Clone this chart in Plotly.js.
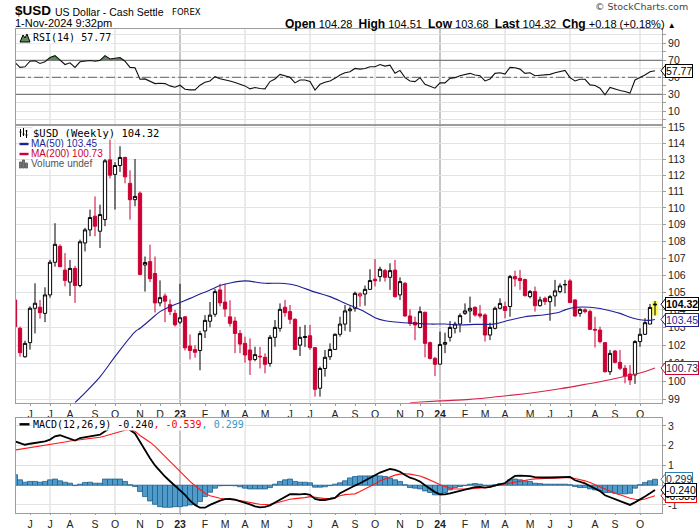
<!DOCTYPE html>
<html><head><meta charset="utf-8">
<script src="https://cdn.plot.ly/plotly-3.0.1.min.js"></script>
<style>html,body{margin:0;padding:0;background:#fff}</style>
</head><body><div id="chart" style="width:700px;height:530px"></div>
<script>
// ---------------- DATA ----------------
const firstWeek = '2022-05-16';   // Monday of first (partly visible) weekly bar
const opens = [104.57,102.95,101.35,102.14,104.09,104.15,103.80,104.86,106.76,107.70,
106.30,105.60,106.40,105.40,107.90,108.68,109.50,108.60,109.30,112.95,
112.05,112.60,113.10,111.50,110.50,110.90,106.60,106.80,106.10,104.40,
104.80,104.30,103.80,103.30,103.60,101.95,101.75,101.70,102.80,103.35,
103.75,105.15,104.45,103.60,103.36,102.66,102.10,101.73,101.20,101.38,
101.32,100.98,102.44,102.95,104.15,103.90,103.46,102.00,102.48,102.53,
101.86,99.61,100.70,101.35,101.76,102.61,103.19,103.95,104.09,104.80,
104.91,105.18,105.77,105.92,106.27,105.88,106.30,104.86,105.53,103.65,
103.29,103.00,103.86,102.14,101.26,100.94,102.05,102.44,102.95,103.19,
103.80,103.94,104.15,103.77,103.71,102.57,102.95,104.09,104.19,104.19,
105.92,105.82,105.75,104.76,105.05,104.24,104.66,104.47,104.80,105.05,
105.44,105.67,104.57,103.80,104.00,103.90,102.89,102.85,102.14,100.52,
101.67,101.04,100.71,100.39,100.34,102.20,102.61,103.19,104.28];
const highs = [104.85,103.05,102.25,104.20,105.53,104.57,105.30,106.90,109.08,107.82,
107.30,106.90,106.55,108.10,108.80,109.90,110.70,110.20,113.00,114.31,
112.80,113.80,113.15,112.30,113.00,111.00,107.10,107.80,107.10,105.70,
104.95,104.60,104.00,105.50,103.65,102.60,102.00,102.80,103.70,104.45,
105.20,105.50,105.50,104.55,103.60,102.85,102.48,102.38,101.91,101.90,
101.54,102.57,103.42,104.37,104.57,104.28,103.52,103.04,103.14,103.14,
101.90,100.80,101.73,102.10,102.66,103.61,104.28,104.20,105.05,105.01,
105.40,106.35,106.95,106.50,106.37,106.70,106.90,105.88,105.60,104.03,
103.61,104.19,103.90,102.20,101.35,102.76,102.70,103.36,103.32,103.80,
104.37,104.76,104.19,104.28,103.80,103.27,104.19,104.66,104.47,106.02,
106.27,106.31,105.80,105.14,105.34,104.76,104.76,104.86,105.73,105.53,
105.73,105.77,104.60,104.09,104.09,104.00,103.61,103.04,102.16,101.73,
101.73,101.73,100.89,100.89,102.28,102.95,103.52,104.34,104.51];
const lows = [102.90,101.35,101.30,101.75,102.66,103.50,103.30,104.70,106.50,106.50,
105.35,104.80,104.40,105.30,107.40,108.30,108.30,107.60,108.90,111.80,
109.90,112.20,111.50,109.30,110.10,106.00,105.05,105.60,103.85,104.20,
103.30,103.70,103.05,103.20,101.70,101.20,101.30,100.60,102.40,103.00,
103.60,104.20,103.60,103.05,101.55,101.55,101.02,100.34,101.10,100.70,
100.43,100.80,101.91,102.76,103.61,103.19,101.73,101.39,101.90,101.73,
99.15,99.15,100.25,101.17,101.73,102.48,102.81,102.75,103.90,104.19,
104.24,105.15,105.35,105.63,105.63,105.15,104.70,104.57,103.61,103.08,
102.28,102.95,101.32,101.20,100.28,100.93,101.55,102.20,102.66,102.72,
103.71,103.27,103.61,103.52,102.20,102.28,102.89,104.03,103.52,103.61,
105.34,105.15,104.76,104.66,103.90,104.19,104.28,103.38,104.19,104.95,
104.95,104.42,103.61,103.61,103.80,102.85,101.87,102.10,100.47,100.34,
100.98,100.61,99.88,99.79,99.85,101.91,102.57,103.19,103.68];
const closes = [103.04,101.58,102.10,104.09,104.38,103.84,104.86,106.76,107.82,106.50,
105.70,106.40,105.40,107.97,108.68,109.42,108.90,109.60,112.89,112.00,
112.60,113.10,111.90,110.50,110.70,106.05,106.75,105.80,104.40,104.70,
104.50,103.90,103.15,103.55,101.85,101.70,101.60,102.65,103.40,103.70,
105.05,104.40,104.05,103.23,102.66,102.06,101.45,101.17,101.47,101.35,
100.93,102.44,103.00,104.03,103.84,103.46,101.76,102.44,102.44,101.86,
99.55,100.70,101.32,101.76,102.61,103.19,103.94,104.05,104.95,104.92,
105.18,105.69,105.68,106.35,105.88,106.27,104.76,105.63,103.65,103.23,
103.14,103.90,102.10,101.26,100.93,102.04,102.15,103.00,103.19,103.67,
103.94,104.09,103.71,103.65,102.57,103.00,104.09,104.37,103.96,105.92,
105.79,105.69,104.82,105.05,104.24,104.57,104.47,104.76,105.09,105.38,
105.46,104.42,103.65,104.03,103.90,102.89,102.85,102.20,100.52,101.54,
101.04,100.71,100.28,100.06,102.20,102.61,103.27,104.14,104.32];

// moving averages (week index -> value)
const ma50Week = [12,17,20,24,25,27,29,31,33,35,37,39,41,43,46,50,53,56,60,63,66,70,72,74,76,80,83,86,89,92,96,99,102,106,109,110,112,115,117,119,121,123,125,127,128];
const ma50 = [98.82,100.24,101.36,102.75,102.95,103.42,103.90,104.19,104.42,104.66,104.91,105.14,105.40,105.55,105.67,105.53,105.53,105.42,105.02,104.76,104.38,103.88,103.55,103.38,103.31,103.23,103.19,103.19,103.14,103.17,103.20,103.42,103.61,103.72,103.88,104.00,104.14,104.15,104.08,103.95,103.80,103.58,103.44,103.40,103.45];
const ma200Week = [79,85,91,99,105,109,114,119,123,125,128];
const ma200 = [98.82,98.92,99.00,99.22,99.42,99.58,99.82,100.08,100.32,100.45,100.73];

const rsi = [67.5,61.7,62.4,69.0,69.4,66.3,68.3,73.3,75.6,70.3,
65.1,67.1,61.7,68.3,69.2,69.8,69.0,70.0,75.6,71.7,
72.5,73.3,69.0,61.7,61.3,47.7,48.1,45.7,42.6,43.0,
42.6,39.9,38.4,40.7,36.0,35.2,35.2,40.7,44.2,45.7,
50.8,48.4,47.3,45.7,43.8,41.8,39.9,36.4,38.0,36.8,
36.4,45.0,48.1,53.5,51.6,50.0,43.4,46.9,46.9,45.0,
34.9,41.8,44.2,45.7,48.8,52.7,55.4,56.6,60.5,59.7,
60.5,62.4,62.4,65.1,63.2,64.4,54.7,58.2,49.6,45.7,
45.0,49.6,41.8,39.1,37.2,43.4,43.4,48.8,49.6,51.9,
53.5,54.7,52.7,51.9,45.7,48.1,54.7,55.4,53.9,61.7,
61.3,59.7,54.7,55.4,51.9,52.7,52.7,53.5,55.4,56.6,
58.2,49.6,45.7,47.7,47.7,41.1,40.3,37.2,29.4,38.0,
36.0,34.5,33.3,31.4,46.9,49.6,52.7,56.6,57.77];

const macd = [2.22,2.14,2.05,2.10,2.15,2.17,2.22,2.31,2.48,2.53,
2.44,2.36,2.26,2.39,2.44,2.49,2.53,2.56,2.73,2.88,
2.97,3.04,2.97,2.80,2.62,2.20,1.76,1.37,1.00,0.70,
0.44,0.20,-0.02,-0.24,-0.49,-0.78,-1.00,-1.14,-1.14,-1.00,
-0.87,-0.78,-0.71,-0.70,-0.73,-0.80,-0.88,-0.97,-1.07,-1.12,
-1.10,-1.02,-0.88,-0.75,-0.58,-0.46,-0.46,-0.47,-0.44,-0.49,
-0.70,-0.75,-0.75,-0.71,-0.64,-0.41,-0.27,-0.13,-0.02,0.10,
0.22,0.36,0.50,0.64,0.74,0.82,0.78,0.68,0.52,0.38,
0.30,0.18,0.00,-0.17,-0.35,-0.46,-0.47,-0.42,-0.35,-0.30,
-0.23,-0.15,-0.10,-0.09,-0.12,-0.09,-0.02,0.06,0.11,0.30,
0.47,0.48,0.47,0.46,0.41,0.39,0.39,0.39,0.40,0.41,
0.43,0.42,0.25,0.16,0.09,-0.04,-0.17,-0.30,-0.51,-0.60,
-0.70,-0.80,-0.90,-1.00,-0.87,-0.74,-0.57,-0.41,-0.240];
const signal = [1.78,1.82,1.85,1.88,1.93,1.97,2.00,2.05,2.10,2.14,
2.19,2.24,2.27,2.29,2.32,2.36,2.37,2.43,2.49,2.56,
2.65,2.73,2.78,2.82,2.74,2.52,2.36,2.18,1.97,1.71,
1.46,1.20,0.93,0.70,0.44,0.19,-0.03,-0.24,-0.41,-0.54,
-0.61,-0.66,-0.70,-0.71,-0.75,-0.78,-0.83,-0.88,-0.93,-0.97,
-0.98,-0.97,-0.92,-0.85,-0.78,-0.71,-0.68,-0.66,-0.63,-0.58,
-0.61,-0.66,-0.68,-0.66,-0.63,-0.54,-0.48,-0.46,-0.44,-0.32,
-0.20,-0.07,0.07,0.22,0.32,0.44,0.51,0.56,0.58,0.56,
0.53,0.47,0.37,0.27,0.15,0.02,-0.07,-0.15,-0.19,-0.20,
-0.20,-0.19,-0.17,-0.15,-0.15,-0.10,-0.03,0.02,0.07,0.10,
0.15,0.20,0.25,0.29,0.32,0.34,0.36,0.36,0.36,0.37,
0.39,0.39,0.34,0.29,0.22,0.14,0.03,-0.07,-0.20,-0.32,
-0.41,-0.49,-0.58,-0.66,-0.71,-0.75,-0.70,-0.61,-0.539];
const hist = [0.53,0.27,0.15,0.19,0.19,0.15,0.19,0.27,0.31,0.22,
0.15,0.10,-0.02,0.05,0.14,0.15,0.10,0.10,0.31,0.31,
0.31,0.31,0.19,0.02,-0.07,-0.32,-0.58,-0.80,-0.97,-1.09,
-1.12,-1.12,-1.09,-1.09,-1.05,-1.00,-0.97,-0.83,-0.58,-0.36,
-0.15,-0.03,-0.02,-0.02,-0.03,-0.08,-0.15,-0.19,-0.19,-0.19,
-0.19,-0.12,0.05,0.19,0.27,0.31,0.19,0.15,0.15,0.12,
-0.10,-0.10,-0.08,-0.02,0.05,0.12,0.22,0.37,0.44,0.47,
0.47,0.47,0.49,0.47,0.44,0.36,0.27,0.19,0.02,-0.12,
-0.15,-0.19,-0.29,-0.37,-0.49,-0.49,-0.37,-0.24,-0.12,-0.07,
-0.02,0.05,0.08,0.05,-0.02,-0.02,0.02,0.08,0.08,0.27,
0.31,0.27,0.22,0.19,0.10,0.08,0.05,0.05,0.05,0.05,
0.05,0.02,-0.07,-0.12,-0.12,-0.19,-0.24,-0.27,-0.37,-0.37,
-0.41,-0.44,-0.44,-0.41,-0.15,0.02,0.14,0.22,0.299];

const monthLetters = ['J','F','M','A','M','J','J','A','S','O','N','D'];
const priceTicks = [99,100,101,102,103,104,105,106,107,108,109,110,111,112,113,114,115];
const rsiTicks = [0,10,20,30,40,50,60,70,80,90,100];
const rsiTickLabels = ['','10','','30','','50','','70','','90',''];
const rsiLevels = [70,50,30];
const macdTicks = [-1,0,1,2,3];
const titleSymbol = '$USD';
const titleName = 'US Dollar - Cash Settle';
const titleExch = 'FOREX';
const stampText = '1-Nov-2024 9:32pm';
const ohlcText = ['Open','104.28','High','104.51','Low','103.68','Last','104.32','Chg','+0.18 (+0.18%)'];

// ---------------- BUILD ----------------
const W = 700, H = 530;
const px = x => x / W, py = y => 1 - y / H;
const DAY = 864e5, WEEK = 7 * DAY;
const N = closes.length;
const t0 = Date.parse(firstWeek + 'T00:00:00Z');
const tms = closes.map((_, i) => t0 + i * WEEK);
const iso = ms => new Date(ms).toISOString().slice(0, 19).replace('T', ' ');
const dates = tms.map(iso);
const xRange = [iso(t0 + 0.2 * WEEK), iso(t0 + (N - 1 + 1.4) * WEEK)];

const tickIdx = [];
for (let i = 1; i < N; i++) {
  if (new Date(tms[i]).getUTCMonth() !== new Date(tms[i - 1]).getUTCMonth()) tickIdx.push(i);
}
const tickvals = tickIdx.map(i => dates[i]);
const ticktext = tickIdx.map(i => {
  const d = new Date(tms[i]), m = d.getUTCMonth();
  return m === 0 ? '<b>' + String(d.getUTCFullYear()).slice(2) + '</b>' : monthLetters[m];
});
const quarterIdx = tickIdx.filter(i => new Date(tms[i]).getUTCMonth() % 3 === 0);

const FONT = 'Liberation Sans, Arial, sans-serif';
const MONO = 'DejaVu Sans Mono, monospace';
const DV = 'DejaVu Sans, sans-serif';
const RED = '#cc0033', NAVY = '#1f1f99', GRID = '#e3e3e3', BORDER = '#9c9c9c';

const blk = [], red = [];
for (let i = 0; i < N; i++) {
  const ref = i > 0 ? closes[i - 1] : opens[i];
  (closes[i] >= ref ? blk : red).push(i);
}
function candles(idx, col) {
  return {
    type: 'candlestick', xaxis: 'x2', yaxis: 'y2',
    x: idx.map(i => dates[i]), open: idx.map(i => opens[i]), high: idx.map(i => highs[i]),
    low: idx.map(i => lows[i]), close: idx.map(i => closes[i]),
    increasing: {line: {color: col, width: 1}, fillcolor: '#ffffff'},
    decreasing: {line: {color: col, width: 1}, fillcolor: col},
    whiskerwidth: 0, hoverinfo: 'skip', showlegend: false
  };
}

const traces = [
  {x: dates, y: dates.map(() => 70), xaxis: 'x', yaxis: 'y', mode: 'lines', line: {width: 0, color: 'rgba(0,0,0,0)'}, hoverinfo: 'skip'},
  {x: dates, y: rsi.map(v => Math.max(v, 70)), xaxis: 'x', yaxis: 'y', mode: 'lines', fill: 'tonexty', fillcolor: '#5c8c5c', line: {width: 0, color: 'rgba(0,0,0,0)'}, hoverinfo: 'skip'}
];
rsiLevels.forEach(v => traces.push({x: xRange, y: [v, v], xaxis: 'x', yaxis: 'y', mode: 'lines',
  line: {color: '#7d7d7d', width: 1.2, dash: v === 50 ? 'dashdot' : 'solid'}, hoverinfo: 'skip'}));
traces.push(
  {x: dates, y: rsi, xaxis: 'x', yaxis: 'y', mode: 'lines', line: {color: '#111', width: 1.1}, hoverinfo: 'skip'},
  {x: ma200Week.map(i => dates[i]), y: ma200, xaxis: 'x2', yaxis: 'y2', mode: 'lines', line: {color: '#d6224c', width: 1.1, shape: 'spline'}, hoverinfo: 'skip'},
  {x: ma50Week.map(i => dates[i]), y: ma50, xaxis: 'x2', yaxis: 'y2', mode: 'lines', line: {color: NAVY, width: 1.1, shape: 'spline'}, hoverinfo: 'skip'},
  candles(blk, '#000000'),
  candles(red, RED),
  {type: 'bar', x: dates, y: hist, width: WEEK, xaxis: 'x3', yaxis: 'y3', marker: {color: '#4f9bcc', line: {color: '#1f5f8a', width: 0.8}}, hoverinfo: 'skip'},
  {x: dates, y: signal, xaxis: 'x3', yaxis: 'y3', mode: 'lines', line: {color: '#ff1a1a', width: 1.1}, hoverinfo: 'skip'},
  {x: dates, y: macd, xaxis: 'x3', yaxis: 'y3', mode: 'lines', line: {color: '#000', width: 1.8}, hoverinfo: 'skip'}
);

const shapes = [];
quarterIdx.forEach(i => {
  const jan = new Date(tms[i]).getUTCMonth() === 0;
  [['x', 'y'], ['x2', 'y2'], ['x3', 'y3']].forEach(([xa, ya]) => shapes.push({
    type: 'line', xref: xa, yref: ya + ' domain', x0: dates[i], x1: dates[i], y0: 0, y1: 1, layer: 'below',
    line: {color: jan ? '#b8b8b8' : '#d6d6d6', width: jan ? 1.6 : 1}
  }));
});
// highlight of the latest bar
shapes.push({type: 'rect', xref: 'x2', yref: 'y2', x0: iso(tms[N - 1] - 0.65 * WEEK), x1: iso(tms[N - 1] + 0.65 * WEEK),
  y0: lows[N - 1], y1: highs[N - 1], fillcolor: '#ffff55', line: {width: 0}, layer: 'below'});

const lineSw = (x0, x1, y, col) => shapes.push({type: 'line', xref: 'paper', yref: 'paper', x0: px(x0), x1: px(x1), y0: py(y), y1: py(y), line: {color: col, width: 2.4}});
lineSw(19.5, 28.5, 144, NAVY);
lineSw(19.5, 28.5, 154, RED);
lineSw(19.5, 29.5, 424.3, '#000');
const icon = (x, y, path, fill, stroke) => shapes.push({type: 'path', xref: 'paper', yref: 'paper', xsizemode: 'pixel', ysizemode: 'pixel',
  xanchor: px(x), yanchor: py(y), path: path, fillcolor: fill, line: {color: stroke, width: 1}});
icon(19.5, 133, 'M1,4 L1,-4 M0,1 L2,1 M4,5 L4,-3 M3,-1 L5,-1 M7,3 L7,-5 M6,2 L8,2 M6,-2 L8,-2', 'rgba(0,0,0,0)', '#000');
icon(19.5, 164, 'M0,-4 L0,2 L2,2 L2,-4 Z M3,-4 L3,4 L5,4 L5,-4 Z M6,-4 L6,1 L8,1 L8,-4 Z', '#777', '#666');
icon(20, 38, 'M0,-4 L3,3 L5,0 L7,4 L10,-4 Z', '#5c8c5c', '#000');

const ann = [];
function tag(yref, yval, isLog, txt, border, col, bold) {
  const y = isLog ? Math.log10(yval) : yval;
  shapes.push({type: 'path', xref: 'paper', yref: yref, xsizemode: 'pixel', ysizemode: 'pixel', xanchor: px(665.5), yanchor: yval,
    path: 'M0.5,6.2 L-4.5,0 L0.5,-6.2 Z', fillcolor: '#fff', line: {color: border, width: 1}, layer: 'above'});
  ann.push({xref: 'paper', yref: yref, x: px(665), y: y, xanchor: 'left', yanchor: 'middle', showarrow: false,
    text: bold ? '<b>' + txt + '</b>' : txt, bgcolor: '#fff', bordercolor: border, borderwidth: 1, borderpad: 0,
    font: {family: FONT, size: 10.5, color: col}});
}
tag('y2', ma200[ma200.length - 1], true, ma200[ma200.length - 1].toFixed(2), RED, '#202050', false);
tag('y2', ma50[ma50.length - 1], true, ma50[ma50.length - 1].toFixed(2), NAVY, NAVY, false);
tag('y2', closes[N - 1], true, closes[N - 1].toFixed(2), '#000', '#000', true);
tag('y', rsi[N - 1], false, rsi[N - 1].toFixed(2), '#000', '#000', false);
tag('y3', hist[N - 1], false, hist[N - 1].toFixed(3), '#2a7fb5', '#103050', false);
tag('y3', signal[N - 1], false, signal[N - 1].toFixed(3), '#ff0000', '#000', false);
tag('y3', macd[N - 1], false, macd[N - 1].toFixed(3), '#000', '#000', false);

const txt = (x, y, text, font, anchor, extra) => ann.push(Object.assign({xref: 'paper', yref: 'paper', x: px(x), y: py(y),
  xanchor: anchor || 'left', yanchor: 'middle', showarrow: false, text: text, font: font}, extra || {}));
txt(13, 11, '<b>' + titleSymbol + '</b>', {family: FONT, size: 13.5, color: '#000'});
txt(53, 11.5, titleName, {family: FONT, size: 10.5, color: '#000'});
txt(170, 12, titleExch, {family: DV, size: 8.5, color: '#000'});
txt(13, 23.3, stampText, {family: FONT, size: 11, color: '#000'});
txt(690, 6.7, '\u00a9 StockCharts.com', {family: DV, size: 9.5, color: '#444'}, 'right');
const nb = '\u00a0';
let o = '';
for (let k = 0; k < ohlcText.length; k += 2) {
  o += (k ? nb + nb : '') + '<b><span style="font-size:12px">' + ohlcText[k] + '</span></b>' + nb + ohlcText[k + 1];
}
o += nb + '<span style="font-size:8px">\u25B2</span>';
txt(678, 24.3, o, {family: FONT, size: 11, color: '#000'}, 'right');

const bgw = {bgcolor: '#fff', borderpad: 0};
txt(31.5, 37.7, 'RSI(14) ' + rsi[N - 1].toFixed(2), {family: MONO, size: 10, color: '#000'}, 'left', bgw);
txt(31.5, 132.7, '$USD (Weekly) ' + closes[N - 1].toFixed(2), {family: MONO, size: 10.5, color: '#000'}, 'left', bgw);
txt(29.5, 144, 'MA(50) ' + ma50[ma50.length - 1].toFixed(2), {family: FONT, size: 10, color: NAVY}, 'left', bgw);
txt(29.5, 154, 'MA(200) ' + ma200[ma200.length - 1].toFixed(2), {family: FONT, size: 10, color: RED}, 'left', bgw);
txt(29.5, 164, 'Volume undef', {family: FONT, size: 10, color: '#555'}, 'left', bgw);
txt(31.5, 424.3, 'MACD(12,26,9) ' + macd[N - 1].toFixed(3) + '<span style="color:#ff0000">, ' + signal[N - 1].toFixed(3) +
  '</span><span style="color:#3399cc">, ' + hist[N - 1].toFixed(3) + '</span>', {family: MONO, size: 10, color: '#000'}, 'left', bgw);

const xBase = {
  type: 'date', range: xRange, domain: [px(16), px(662)], tickvals: tickvals, ticktext: ticktext,
  showgrid: false, zeroline: false, showline: true, mirror: true, linecolor: BORDER, linewidth: 1,
  ticks: 'outside', ticklen: 2, tickcolor: BORDER, tickfont: {family: FONT, size: 10.5, color: '#222'},
  fixedrange: true
};
const yBase = {
  side: 'right', showgrid: true, gridcolor: GRID, gridwidth: 1, zeroline: false, showline: true, mirror: true,
  linecolor: BORDER, linewidth: 1, ticks: 'outside', ticklen: 3, tickcolor: BORDER,
  tickfont: {family: FONT, size: 10.5, color: '#222'}, fixedrange: true
};

const layout = {
  width: W, height: H, autosize: false, margin: {l: 0, r: 0, t: 0, b: 0},
  paper_bgcolor: '#fff', plot_bgcolor: '#fff', showlegend: false, hovermode: false,
  boxgap: 0.35, boxgroupgap: 0, bargap: 0,
  xaxis: Object.assign({}, xBase, {anchor: 'y', showticklabels: false, ticks: ''}),
  yaxis: Object.assign({}, yBase, {anchor: 'x', domain: [py(124.8), py(29)], range: [-6, 107], tickvals: rsiTicks, ticktext: rsiTickLabels}),
  xaxis2: Object.assign({}, xBase, {anchor: 'y2', matches: 'x', rangeslider: {visible: false}}),
  yaxis2: Object.assign({}, yBase, {anchor: 'x2', type: 'log', domain: [py(402.7), py(124.8)],
    range: [Math.log10(98.82), Math.log10(115.15)], tickvals: priceTicks, ticktext: priceTicks.map(String)}),
  xaxis3: Object.assign({}, xBase, {anchor: 'y3', matches: 'x', ticklen: 1}),
  yaxis3: Object.assign({}, yBase, {anchor: 'x3', domain: [py(513), py(417.7)], range: [-1.41, 3.42],
    tickvals: macdTicks, ticktext: macdTicks.map(String)}),
  shapes: shapes, annotations: ann
};

Plotly.newPlot('chart', traces, layout, {staticPlot: true, displayModeBar: false});
</script></body></html>
